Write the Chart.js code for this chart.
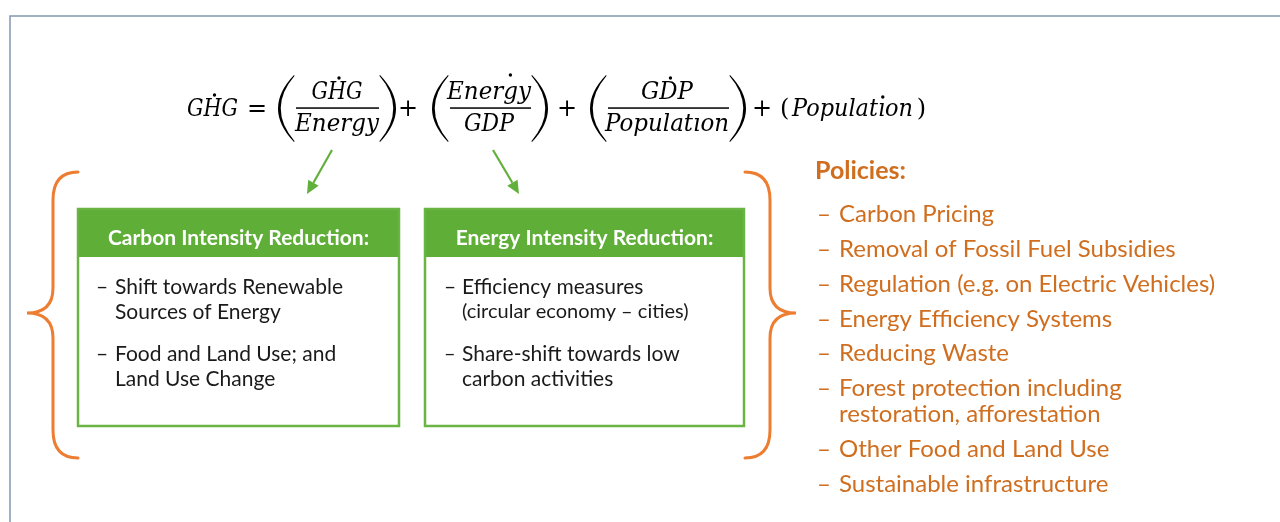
<!DOCTYPE html>
<html><head><meta charset="utf-8">
<script src="https://cdn.jsdelivr.net/npm/chart.js@4/dist/chart.umd.min.js"></script>
<style>html,body{margin:0;padding:0;background:#fff;}canvas{display:block;}</style>
</head><body>
<canvas id="c" width="1280" height="522"></canvas>
<script>
// ---- content ----
const equationLHS = 'GHG';
const fractionNumerators = ['GHG', 'Energy', 'GDP'];
const fractionDenominators = ['Energy', 'GDP', 'Populatıon'];
const lastTerm = 'Populatıon';
const boxTitles = ['Carbon Intensity Reduction:', 'Energy Intensity Reduction:'];
const box1Items = [['Shift towards Renewable', 'Sources of Energy'], ['Food and Land Use; and', 'Land Use Change']];
const box2Items = [['Efficiency measures', '(circular economy – cities)'], ['Share-shift towards low', 'carbon activities']];
const policiesTitle = 'Policies:';
const policies = [['Carbon Pricing'], ['Removal of Fossil Fuel Subsidies'], ['Regulation (e.g. on Electric Vehicles)'], ['Energy Efficiency Systems'], ['Reducing Waste'], ['Forest protection including', 'restoration, afforestation'], ['Other Food and Land Use'], ['Sustainable infrastructure']];

// ---- layout (diagram coordinates) ----
const fracLayout = [
  {pl: 278, pr: 396, cx: 337, nw: 51, dw: 84},
  {pl: 432, pr: 548, cx: 489, nw: 84, dw: 50},
  {pl: 590, pr: 746, cx: 667, nw: 52, dw: 124}
];
const plusX = [408, 567, 762];
const boxLayout = [{x0: 78, x1: 399, dashX: 96, textX: 115}, {x0: 425, x1: 744, dashX: 444, textX: 462}];
const policyLineY = [214, 249, 284, 319, 353, 388, 414, 449, 484];

const GREEN = '#62b03c', GREEN_HEAD = '#5eae37', ORANGE = '#ed7d31', POL = '#d06e1f', FRAME = '#8496b0';
const MATH = '"DejaVu Serif", "Liberation Serif", serif';

const diagram = {
  id: 'diagram',
  afterDraw(chart) {
    const ctx = chart.ctx;
    const xs = chart.scales.x, ys = chart.scales.y;
    const X = v => xs.getPixelForValue(v), Y = v => ys.getPixelForValue(v);
    ctx.save();
    // frame
    ctx.strokeStyle = FRAME; ctx.lineWidth = 1.5;
    ctx.beginPath(); ctx.moveTo(X(1280), Y(16)); ctx.lineTo(X(10), Y(16)); ctx.lineTo(X(10), Y(522)); ctx.stroke();

    function fitText(s, left, base, w, font, color) {
      ctx.font = font; ctx.fillStyle = color; ctx.textAlign = 'left'; ctx.textBaseline = 'alphabetic';
      const m = ctx.measureText(s).width;
      const k = w / m;
      ctx.save(); ctx.translate(X(left), Y(base)); ctx.scale(k, 1); ctx.fillText(s, 0, 0); ctx.restore();
      return k;
    }
    function dot(x, y) { ctx.fillStyle = '#000'; ctx.beginPath(); ctx.arc(X(x), Y(y), 1.7, 0, Math.PI * 2); ctx.fill(); }
    function dotOver(s, prefix, frac, left, w, y, font) {
      ctx.font = font;
      const full = ctx.measureText(s).width;
      const pre = ctx.measureText(prefix).width;
      const ch = ctx.measureText(s.charAt(prefix.length)).width;
      dot(left + (pre + ch * frac) / full * w + 2, y);
    }
    function paren(xl, xr, yt, yb, left) {
      const ym = (yt + yb) / 2, th = 2.4;
      ctx.fillStyle = '#000'; ctx.beginPath();
      if (left) {
        ctx.moveTo(X(xr), Y(yt)); ctx.quadraticCurveTo(X(2 * xl - xr), Y(ym), X(xr), Y(yb));
        ctx.lineTo(X(xr + 0.6), Y(yb - 0.8)); ctx.quadraticCurveTo(X(2 * (xl + th) - xr), Y(ym), X(xr + 0.6), Y(yt + 0.8));
      } else {
        ctx.moveTo(X(xl), Y(yt)); ctx.quadraticCurveTo(X(2 * xr - xl), Y(ym), X(xl), Y(yb));
        ctx.lineTo(X(xl - 0.6), Y(yb - 0.8)); ctx.quadraticCurveTo(X(2 * (xr - th) - xl), Y(ym), X(xl - 0.6), Y(yt + 0.8));
      }
      ctx.closePath(); ctx.fill();
    }
    const mfont = 'italic 24px ' + MATH;
    const ufont = '24px ' + MATH;

    // LHS
    fitText(equationLHS, 187, 116, 51, mfont, '#000');
    dotOver(equationLHS, 'G', 0.5, 187, 51, 95, mfont);
    ctx.font = ufont; ctx.fillStyle = '#000'; ctx.textAlign = 'center';
    ctx.fillText('=', X(257), Y(116));
    plusX.forEach(px => { ctx.font = ufont; ctx.textAlign = 'center'; ctx.fillStyle = '#000'; ctx.fillText('+', X(px), Y(116)); });

    // fractions
    fracLayout.forEach((f, i) => {
      paren(f.pl, f.pl + 16, 75, 142, true);
      paren(f.pr - 16, f.pr, 75, 142, false);
      ctx.fillStyle = '#000'; ctx.fillRect(X(f.pl + 18), Y(107.3), X(f.pr - 17) - X(f.pl + 18), 1.5);
      const num = fractionNumerators[i], den = fractionDenominators[i];
      fitText(num, f.cx - f.nw / 2, 99, f.nw, mfont, '#000');
      fitText(den, f.cx - f.dw / 2, 131, f.dw, mfont, '#000');
      if (num === 'Energy') dotOver(num, 'Ener', 0.35, f.cx - f.nw / 2, f.nw, 75, mfont);
      else dotOver(num, num.charAt(0), 0.5, f.cx - f.nw / 2, f.nw, 78, mfont);
    });
    // last term
    ctx.font = ufont; ctx.fillStyle = '#000'; ctx.textAlign = 'left';
    ctx.fillText('(', X(780), Y(116));
    fitText(lastTerm, 792, 116, 121, mfont, '#000');
    dotOver(lastTerm, 'Populat', 0.4, 792, 121, 97, mfont);
    ctx.font = ufont; ctx.fillStyle = '#000'; ctx.textAlign = 'right';
    ctx.fillText(')', X(926), Y(116));

    // arrows
    function arrow(x0, y0, x1, y1) {
      const a = Math.atan2(y1 - y0, x1 - x0), hl = 13, hw = 6;
      const bx = x1 - hl * Math.cos(a), by = y1 - hl * Math.sin(a);
      ctx.strokeStyle = GREEN; ctx.lineWidth = 2.2;
      ctx.beginPath(); ctx.moveTo(X(x0), Y(y0)); ctx.lineTo(X(bx), Y(by)); ctx.stroke();
      ctx.fillStyle = GREEN; ctx.beginPath();
      ctx.moveTo(X(x1), Y(y1));
      ctx.lineTo(X(bx + hw * Math.sin(a)), Y(by - hw * Math.cos(a)));
      ctx.lineTo(X(bx - hw * Math.sin(a)), Y(by + hw * Math.cos(a)));
      ctx.closePath(); ctx.fill();
    }
    arrow(332, 150, 307, 194);
    arrow(493, 150, 519, 194);

    // boxes
    const items = [box1Items, box2Items];
    boxLayout.forEach((b, i) => {
      ctx.fillStyle = GREEN_HEAD; ctx.fillRect(X(b.x0), Y(209), X(b.x1) - X(b.x0), Y(257) - Y(209));
      ctx.strokeStyle = '#6ab443'; ctx.lineWidth = 2.5;
      ctx.strokeRect(X(b.x0), Y(209), X(b.x1) - X(b.x0), Y(426) - Y(209));
      ctx.font = 'bold 21px Lato'; ctx.fillStyle = '#fff'; ctx.textAlign = 'center'; ctx.textBaseline = 'middle';
      ctx.fillText(boxTitles[i], X((b.x0 + b.x1) / 2), Y(238));
      ctx.font = '21px Lato'; ctx.fillStyle = '#1a1a1a'; ctx.textAlign = 'left';
      const ys0 = [287, 354];
      items[i].forEach((it, j) => {
        ctx.fillText('–', X(b.dashX), Y(ys0[j]));
        it.forEach((ln, k) => {
          ctx.font = (i === 1 && j === 0 && k === 1) ? '20px Lato' : '21px Lato';
          ctx.fillText(ln, X(b.textX), Y(ys0[j] + k * 25));
        });
      });
    });

    // braces
    ctx.strokeStyle = ORANGE; ctx.lineWidth = 3; ctx.lineCap = 'round';
    function brace(tipX, vx, endX) {
      ctx.beginPath();
      ctx.moveTo(X(endX), Y(172)); ctx.quadraticCurveTo(X(vx), Y(172), X(vx), Y(200));
      ctx.lineTo(X(vx), Y(288)); ctx.quadraticCurveTo(X(vx), Y(313), X(tipX), Y(313));
      ctx.quadraticCurveTo(X(vx), Y(313), X(vx), Y(338));
      ctx.lineTo(X(vx), Y(430)); ctx.quadraticCurveTo(X(vx), Y(458), X(endX), Y(458));
      ctx.stroke();
    }
    brace(27, 53, 78);
    brace(796, 770, 745);

    // policies
    ctx.textBaseline = 'middle'; ctx.textAlign = 'left';
    ctx.font = 'bold 25px Lato'; ctx.fillStyle = POL;
    ctx.fillText(policiesTitle, X(815), Y(171));
    ctx.font = '24px Lato';
    let li = 0;
    policies.forEach(p => {
      ctx.fillText('–', X(817), Y(policyLineY[li]));
      p.forEach(ln => { ctx.fillText(ln, X(839), Y(policyLineY[li])); li++; });
    });
    ctx.restore();
  }
};

new Chart(document.getElementById('c'), {
  type: 'scatter',
  data: { datasets: [] },
  options: {
    responsive: false, animation: false, devicePixelRatio: 1,
    layout: { padding: 0 },
    plugins: { legend: { display: false }, tooltip: { enabled: false } },
    scales: {
      x: { type: 'linear', min: 0, max: 1280, display: false },
      y: { type: 'linear', min: 0, max: 522, reverse: true, display: false }
    }
  },
  plugins: [diagram]
});
</script>
</body></html>
